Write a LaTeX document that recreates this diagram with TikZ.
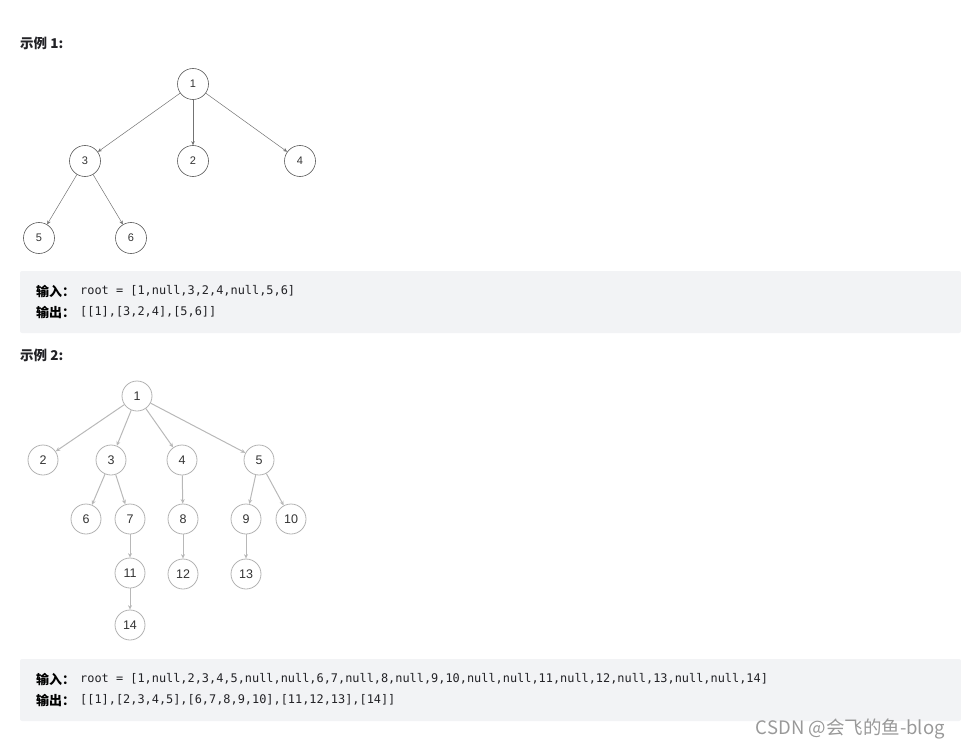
\documentclass[tikz,border=0pt]{standalone}
\usepackage{fontspec}
\setmainfont{Liberation Sans}
\setmonofont{DejaVu Sans Mono}
\newfontfamily\cjkfont{Noto Sans CJK SC}
\usetikzlibrary{arrows.meta}

\definecolor{boxgray}{RGB}{242,243,245}
\definecolor{txtdark}{RGB}{34,34,38}
\tikzset{
  title/.style={anchor=west,font=\cjkfont\bfseries\fontsize{13.5}{15}\selectfont,text=txtdark,inner sep=0pt},
  codebox/.style={fill=boxgray,rounded corners=2pt},
  lbl/.style={anchor=west,font=\cjkfont\bfseries\fontsize{13}{15}\selectfont,text=black,inner sep=0pt},
  code/.style={anchor=west,font=\ttfamily\fontsize{11.9}{14}\selectfont,text=txtdark,inner sep=0pt},
  vA/.style={circle,draw=black!65,line width=0.6pt,minimum size=31pt,inner sep=0pt,font=\fontsize{11}{12}\selectfont,text=black!80},
  vB/.style={circle,draw=black!30,line width=0.8pt,minimum size=30pt,inner sep=0pt,font=\fontsize{12.5}{14}\selectfont,text=black!80},
  eA/.style={draw=black!55,line width=0.5pt,-{Stealth[length=4pt,width=3.5pt]}},
  eB/.style={draw=black!28,line width=1pt,-{Stealth[length=4.5pt,width=4pt]}}
}

\begin{document}
\begin{tikzpicture}[x=1pt,y=-1pt]
  \useasboundingbox (0,0) rectangle (961,749);

  % example 1
  \node[title] (t1) at (20,43) {示例 1:};
  \node[vA] (a1) at (193,84) {1};
  \node[vA] (a3) at (85,161) {3};
  \node[vA] (a2) at (193,161) {2};
  \node[vA] (a4) at (300,161) {4};
  \node[vA] (a5) at (39,238) {5};
  \node[vA] (a6) at (131,238) {6};
  \foreach \p/\c in {a1/a3,a1/a2,a1/a4,a3/a5,a3/a6}
    \draw[eA] (\p) -- (\c);

  \path[codebox] (20,271) rectangle (961,333);
  \node[lbl] (in1) at (36,291) {输入：};
  \node[code] (in1v) at (80,291) {root = [1,null,3,2,4,null,5,6]};
  \node[lbl] (out1) at (36,312) {输出：};
  \node[code] (out1v) at (80,312) {[[1],[3,2,4],[5,6]]};

  % example 2
  \node[title] (t2) at (20,355) {示例 2:};
  \node[vB] (b1) at (137,396) {1};
  \node[vB] (b2) at (43,460) {2};
  \node[vB] (b3) at (111,460) {3};
  \node[vB] (b4) at (182,460) {4};
  \node[vB] (b5) at (259,460) {5};
  \node[vB] (b6) at (86,519) {6};
  \node[vB] (b7) at (130,519) {7};
  \node[vB] (b8) at (183,519) {8};
  \node[vB] (b9) at (246,519) {9};
  \node[vB] (b10) at (291,519) {10};
  \node[vB] (b11) at (130,573) {11};
  \node[vB] (b12) at (183,574) {12};
  \node[vB] (b13) at (246,574) {13};
  \node[vB] (b14) at (130,625) {14};
  \foreach \p/\c in {b1/b2,b1/b3,b1/b4,b1/b5,b3/b6,b3/b7,b4/b8,b5/b9,b5/b10,b7/b11,b8/b12,b9/b13,b11/b14}
    \draw[eB] (\p) -- (\c);

  \path[codebox] (20,659) rectangle (961,721);
  \node[lbl] (in2) at (36,679) {输入：};
  \node[code] (in2v) at (80,679) {root = [1,null,2,3,4,5,null,null,6,7,null,8,null,9,10,null,null,11,null,12,null,13,null,null,14]};
  \node[lbl] (out2) at (36,700) {输出：};
  \node[code] (out2v) at (80,700) {[[1],[2,3,4,5],[6,7,8,9,10],[11,12,13],[14]]};

  % watermark
  \node[anchor=east,inner sep=0pt,font=\cjkfont\fontsize{18.5}{20}\selectfont,text=black!40] (wm) at (945,729) {CSDN @会飞的鱼-blog};
\end{tikzpicture}
\end{document}
